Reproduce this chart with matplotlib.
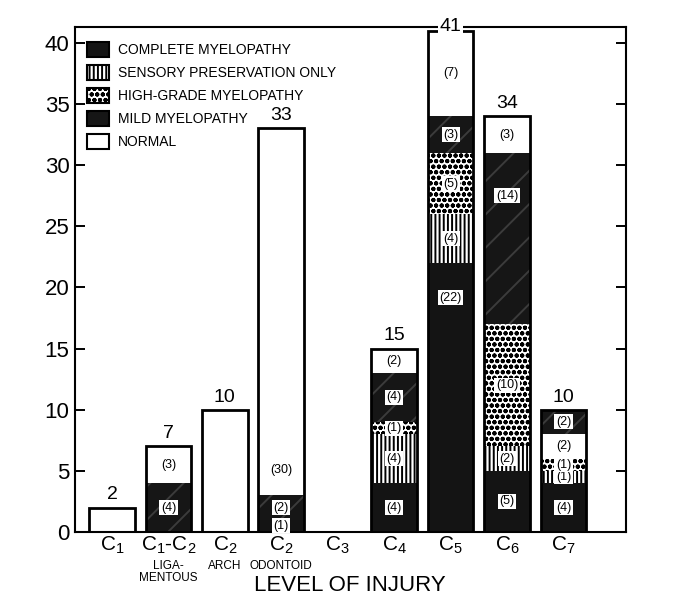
import numpy as np
import matplotlib.pyplot as plt
from matplotlib.patches import Patch
from matplotlib.transforms import blended_transform_factory

plt.rcParams['font.family'] = ['Liberation Sans', 'DejaVu Sans']
plt.rcParams['mathtext.fontset'] = 'custom'
plt.rcParams['mathtext.rm'] = 'Liberation Sans'
plt.rcParams['mathtext.default'] = 'regular'
plt.rcParams['hatch.linewidth'] = 1.4

# data: counts per level of injury
levels = ['C$_1$', 'C$_1$-C$_2$', 'C$_2$', 'C$_2$', 'C$_3$', 'C$_4$', 'C$_5$', 'C$_6$', 'C$_7$']
sublabels = ['', 'LIGA-\nMENTOUS', 'ARCH', 'ODONTOID', '', '', '', '', '']
totals = [2, 7, 10, 33, 0, 15, 41, 34, 10]

complete = [0, 0, 0, 1, 0, 4, 22, 5, 4]
sensory = [0, 0, 0, 0, 0, 4, 4, 2, 1]
high_grade = [0, 0, 0, 0, 0, 1, 5, 10, 1]
mild = [0, 4, 0, 2, 0, 4, 3, 14, 2]
normal = [2, 3, 10, 30, 0, 2, 7, 3, 2]

series = {'complete': complete, 'sensory': sensory, 'high': high_grade,
          'mild': mild, 'normal': normal}
default_order = ['complete', 'sensory', 'high', 'mild', 'normal']
# C7 has normal stacked under mild
order_override = {8: ['complete', 'sensory', 'high', 'normal', 'mild']}
# where the count label sits inside a segment (fraction of segment height)
label_frac = {(6, 'complete'): 0.87, (7, 'mild'): 0.75, (3, 'normal'): 0.07}

styles = {
    'complete': dict(color='#141414', hatch=None, edge='#141414'),
    'sensory': dict(color='white', hatch='||||', edge='black'),
    'high': dict(color='white', hatch='ooo', edge='black'),
    'mild': dict(color='#161616', hatch='/', edge='#3c3c3c'),
    'normal': dict(color='white', hatch=None, edge='white'),
}
names = {'complete': 'COMPLETE MYELOPATHY', 'sensory': 'SENSORY PRESERVATION ONLY',
         'high': 'HIGH-GRADE MYELOPATHY', 'mild': 'MILD MYELOPATHY', 'normal': 'NORMAL'}

fig = plt.figure(figsize=(6.84, 5.96), dpi=100)
ax = fig.add_axes([0.1096, 0.1074, 0.805, 0.8473])

x = np.arange(len(levels))
w = 0.81
ymax = 41.3

for i in x:
    order = order_override.get(i, default_order)
    bottom = 0
    for key in order:
        h = series[key][i]
        if h == 0:
            continue
        st = styles[key]
        ax.bar(i, h, w, bottom=bottom, color=st['color'], hatch=st['hatch'],
               edgecolor=st['edge'], linewidth=0, zorder=2)
        if not (key == 'normal' and i in (0, 2)):
            f = label_frac.get((i, key), 0.5)
            yy = bottom + h * f
            if key == 'normal':
                ax.text(i, yy, f'({h})', ha='center', va='center', fontsize=9, zorder=4)
            else:
                ax.text(i, yy, f'({h})', ha='center', va='center', fontsize=9, zorder=4,
                        bbox=dict(boxstyle='square,pad=0.12', fc='white', ec='none'))
        bottom += h
    if totals[i] > 0:
        ax.bar(i, totals[i], w, fill=False, edgecolor='black', linewidth=2, zorder=3)
        if totals[i] >= ymax - 0.5:
            ax.text(i, ymax, str(totals[i]), ha='center', va='center', fontsize=14,
                    zorder=6, clip_on=False,
                    bbox=dict(boxstyle='square,pad=0.1', fc='white', ec='none'))
        else:
            ax.annotate(str(totals[i]), (i, totals[i]), xytext=(0, 3),
                        textcoords='offset points', ha='center', va='bottom', fontsize=14)

ax.set_xlim(-0.655, 9.1)
ax.set_ylim(0, ymax)
ax.set_yticks(range(0, 41, 5))
ax.tick_params(axis='y', direction='in', length=7, width=1.4, labelsize=16,
               left=True, right=True, pad=4)
ax.set_xticks(x)
ax.set_xticklabels(levels, fontsize=15)
ax.tick_params(axis='x', length=0, pad=2)
for sp in ax.spines.values():
    sp.set_linewidth(1.5)

trans = blended_transform_factory(ax.transData, ax.transAxes)
for i, s in enumerate(sublabels):
    if s:
        ax.text(i, -0.056, s, transform=trans, ha='center', va='top', fontsize=8.5,
                linespacing=1.0)
ax.text(0.5, -0.105, 'LEVEL OF INJURY', transform=ax.transAxes, ha='center',
        va='center', fontsize=16)

handles = []
for key in default_order:
    st = styles[key]
    if key == 'normal':
        handles.append(Patch(facecolor='white', edgecolor='black', linewidth=1.5,
                             label=names[key]))
    else:
        handles.append(Patch(facecolor=st['color'], hatch=st['hatch'],
                             edgecolor='black', linewidth=1.5, label=names[key]))
ax.legend(handles=handles, loc='upper left', bbox_to_anchor=(0.022, 0.97),
          frameon=False, fontsize=10, handlelength=1.6, handleheight=1.3,
          labelspacing=0.55, handletextpad=0.6, borderpad=0, borderaxespad=0)

fig.savefig('out.png', dpi=100)
